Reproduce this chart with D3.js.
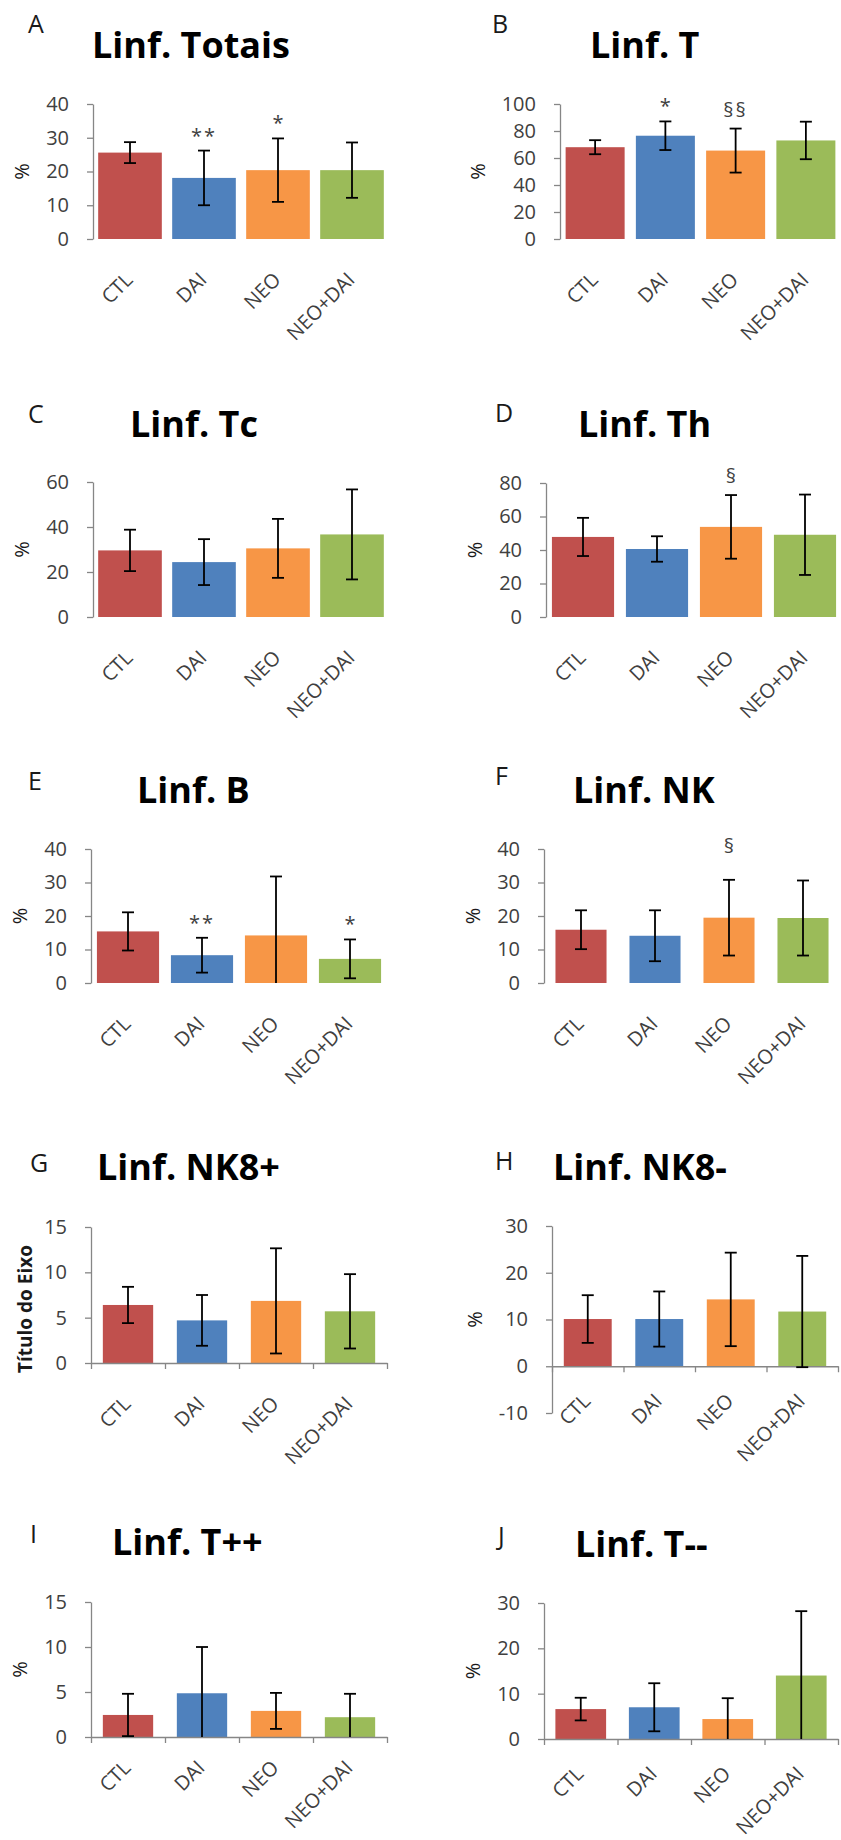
<!DOCTYPE html>
<html>
<head>
<meta charset="utf-8">
<script src="https://cdnjs.cloudflare.com/ajax/libs/d3/7.8.5/d3.min.js"></script>
<style>
  body { margin: 0; background: #fff; }
  svg { display: block; }
</style>
</head>
<body>
<div id="graf"></div>
<script>
const groups = ["CTL", "DAI", "NEO", "NEO+DAI"]
const letters = ["A", "B", "C", "D", "E", "F", "G", "H", "I", "J"]
const titles = ["Linf. Totais", "Linf. T", "Linf. Tc", "Linf. Th", "Linf. B",
  "Linf. NK", "Linf. NK8+", "Linf. NK8-", "Linf. T++", "Linf. T--"]
const yLabels = ["%", "%", "%", "%", "%", "%", "Título do Eixo", "%", "%", "%"]
const yDomains = [[0, 40], [0, 100], [0, 60], [0, 80], [0, 40], [0, 40], [0, 15], [-10, 30], [0, 15], [0, 30]]
const yTickSteps = [10, 20, 20, 20, 10, 10, 5, 10, 5, 10]

// medias e desvios (CTL, DAI, NEO, NEO+DAI)
const totais = [25.6, 18.1, 20.4, 20.4]
const totaisSD = [3.1, 8.1, 9.4, 8.2]
const linfT = [68, 76.5, 65.5, 73]
const linfTSD = [5.2, 10.6, 16.3, 13.9]
const linfTc = [29.6, 24.4, 30.5, 36.7]
const linfTcSD = [9.2, 10.2, 13.1, 20]
const linfTh = [47.8, 40.6, 53.8, 49.1]
const linfThSD = [11.4, 7.6, 19, 24]
const linfB = [15.4, 8.3, 14.2, 7.2]
const linfBSD = [5.7, 5.2, 17.6, 5.8]
const linfNK = [15.9, 14.1, 19.5, 19.4]
const linfNKSD = [5.8, 7.6, 11.3, 11.2]
const nk8pos = [6.4, 4.7, 6.85, 5.7]
const nk8posSD = [2.0, 2.8, 5.8, 4.1]
const nk8neg = [10.1, 10.1, 14.3, 11.7]
const nk8negSD = [5.1, 5.9, 10, 11.9]
const tDupla = [2.45, 4.86, 2.9, 2.2]
const tDuplaSD = [2.35, 5.14, 2.0, 2.6]
const tNeg = [6.6, 7.0, 4.4, 14.0]
const tNegSD = [2.5, 5.3, 4.6, 14.2]

const means = [totais, linfT, linfTc, linfTh, linfB, linfNK, nk8pos, nk8neg, tDupla, tNeg]
const sds = [totaisSD, linfTSD, linfTcSD, linfThSD, linfBSD, linfNKSD, nk8posSD, nk8negSD, tDuplaSD, tNegSD]

const marks = [
  ["", "**", "*", ""], ["", "*", "§§", ""], ["", "", "", ""], ["", "", "§", ""],
  ["", "**", "", "*"], ["", "", "§", ""], ["", "", "", ""], ["", "", "", ""],
  ["", "", "", ""], ["", "", "", ""],
]

const colores = ["#c0504d", "#4f81bd", "#f79646", "#9bbb59"]

// posicao de cada painel na figura
const layout = [
  { x0: 93, x1: 389, yTop: 104, yBot: 239, pad: 0.14, tx: 92, ty: 58, lx: 28, ly: 33 },
  { x0: 560, x1: 841, yTop: 104, yBot: 239, pad: 0.16, tx: 590, ty: 58, lx: 492, ly: 33 },
  { x0: 93, x1: 389, yTop: 482, yBot: 617, pad: 0.14, tx: 130, ty: 437, lx: 28, ly: 423 },
  { x0: 546, x1: 842, yTop: 483, yBot: 617, pad: 0.16, tx: 578, ty: 437, lx: 495, ly: 422 },
  { x0: 91, x1: 387, yTop: 849, yBot: 983, pad: 0.16, tx: 137, ty: 803, lx: 28, ly: 790 },
  { x0: 544, x1: 840, yTop: 849, yBot: 983, pad: 0.31, tx: 573, ty: 803, lx: 495, ly: 785, markGap: 35 },
  { x0: 91, x1: 387, yTop: 1227, yBot: 1363, pad: 0.32, tx: 97, ty: 1180, lx: 30, ly: 1172, axisX: true },
  { x0: 552, x1: 838, yTop: 1226, yBot: 1413, pad: 0.33, tx: 553, ty: 1180, lx: 495, ly: 1170, axisX: true, labDy: 36 },
  { x0: 91, x1: 387, yTop: 1602, yBot: 1737, pad: 0.32, tx: 112, ty: 1555, lx: 30, ly: 1543, axisX: true, labDy: 32 },
  { x0: 544, x1: 838, yTop: 1603, yBot: 1739, pad: 0.31, tx: 575, ty: 1557, lx: 498, ly: 1545, axisX: true, labDy: 36 },
]

const svg = d3.select("#graf")
  .append("svg")
  .attr("width", 841)
  .attr("height", 1840)
  .style("font-family", "'Open Sans', sans-serif")

svg.append("rect").attr("width", 841).attr("height", 1840).attr("fill", "#fff")

layout.forEach((L, i) => {
  const g = svg.append("g")
  const dom = yDomains[i]

  const x = d3.scaleBand()
    .domain(groups)
    .range([L.x0, L.x1])
    .paddingInner(L.pad)
    .paddingOuter(L.pad / 2)

  const y = d3.scaleLinear().domain(dom).range([L.yBot, L.yTop])

  // letra e titulo
  g.append("text")
    .attr("x", L.lx).attr("y", L.ly)
    .attr("font-size", 25).attr("fill", "#1a1a1a")
    .text(letters[i])

  g.append("text")
    .attr("x", L.tx).attr("y", L.ty)
    .attr("font-size", 36).attr("font-weight", 700).attr("fill", "#000")
    .text(titles[i])

  // eixo y
  const ticks = d3.range(dom[0], dom[1] + yTickSteps[i] / 2, yTickSteps[i])
  const yAxis = g.append("g")
    .attr("transform", `translate(${L.x0},0)`)
    .attr("color", "#868686")
    .call(d3.axisLeft(y).tickValues(ticks).tickSize(6).tickSizeOuter(0).tickPadding(18)
      .tickFormat((d) => String(d)))
  yAxis.selectAll("text")
    .attr("font-size", 20).attr("fill", "#404040")
    .attr("font-family", "'Open Sans', sans-serif")
  yAxis.select(".domain").attr("stroke-width", 1.3)
  yAxis.selectAll(".tick line").attr("stroke-width", 1.3)

  const bb = yAxis.node().getBBox()
  const bold = yLabels[i] !== "%"
  g.append("text")
    .attr("transform", `translate(${L.x0 + bb.x - (bold ? 12 : 17)},${(L.yTop + L.yBot) / 2 + (bold ? 14 : 0)}) rotate(-90)`)
    .attr("text-anchor", "middle")
    .attr("font-size", bold ? 19 : 20)
    .attr("font-weight", bold ? 700 : 400)
    .attr("fill", "#1a1a1a")
    .text(yLabels[i])

  // barras
  const rows = groups.map((k, j) => ({ k, j, m: means[i][j], sd: sds[i][j], mark: marks[i][j] }))

  g.selectAll("rect.bar")
    .data(rows)
    .join("rect")
    .attr("class", "bar")
    .attr("x", (d) => x(d.k))
    .attr("width", x.bandwidth())
    .attr("y", (d) => y(d.m))
    .attr("height", (d) => y(0) - y(d.m))
    .attr("fill", (d) => colores[d.j])

  // eixo x com marcas entre categorias
  if (L.axisX) {
    const xb = d3.scaleLinear().domain([0, groups.length]).range([L.x0, L.x1])
    const xAxis = g.append("g")
      .attr("transform", `translate(0,${y(0)})`)
      .attr("color", "#868686")
      .call(d3.axisBottom(xb).ticks(groups.length).tickSize(6).tickSizeOuter(0).tickFormat(""))
    xAxis.select(".domain").attr("stroke-width", 1.3)
    xAxis.selectAll(".tick line").attr("stroke-width", 1.3)
  }

  // barras de erro
  const err = g.selectAll("g.err")
    .data(rows)
    .join("g")
    .attr("class", "err")
    .attr("stroke", "#000")
    .attr("stroke-width", 1.8)

  const cx = (d) => x(d.k) + x.bandwidth() / 2
  const hi = (d) => Math.min(d.m + d.sd, dom[1])
  const lo = (d) => Math.max(d.m - d.sd, dom[0] < 0 ? dom[0] : 0)

  err.append("line")
    .attr("x1", cx).attr("x2", cx)
    .attr("y1", (d) => y(hi(d))).attr("y2", (d) => y(lo(d)))
  err.append("line")
    .attr("x1", (d) => cx(d) - 6).attr("x2", (d) => cx(d) + 6)
    .attr("y1", (d) => y(hi(d))).attr("y2", (d) => y(hi(d)))
  err.filter((d) => d.m - d.sd > 0 || dom[0] < 0)
    .append("line")
    .attr("x1", (d) => cx(d) - 6).attr("x2", (d) => cx(d) + 6)
    .attr("y1", (d) => y(lo(d))).attr("y2", (d) => y(lo(d)))

  // significancia
  const gap = L.markGap ?? 20
  g.selectAll("text.mark")
    .data(rows.filter((d) => d.mark))
    .join("text")
    .attr("class", "mark")
    .attr("x", cx)
    .attr("y", (d) => y(hi(d)) - gap + (d.mark.includes("*") ? 12 : 8))
    .attr("text-anchor", "middle")
    .attr("font-size", 20)
    .attr("letter-spacing", (d) => d.mark.length > 1 ? 2 : 0)
    .attr("fill", "#404040")
    .text((d) => d.mark)

  // rotulos das categorias
  const xLab = g.append("g")
    .attr("transform", `translate(0,${y(0)})`)
    .call(d3.axisBottom(x).tickSize(0))
  xLab.select(".domain").remove()
  xLab.selectAll("text")
    .attr("font-size", 20)
    .attr("font-family", "'Open Sans', sans-serif")
    .attr("fill", "#404040")
    .attr("text-anchor", "end")
    .attr("y", 0).attr("dy", 0)
    .attr("transform", `translate(4,${L.labDy ?? 42}) rotate(-45)`)
})
</script>
</body>
</html>
